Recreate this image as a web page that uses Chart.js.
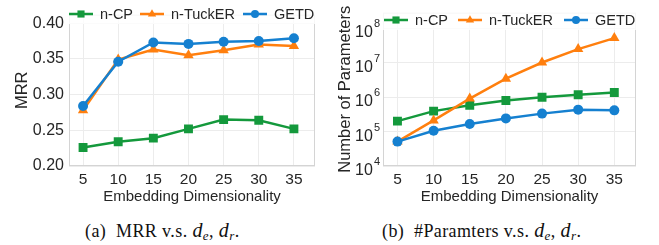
<!DOCTYPE html>
<html>
<head>
<meta charset="utf-8">
<script src="https://cdn.jsdelivr.net/npm/chart.js@4"></script>
<style>
  body { margin: 0; background: #fff; width: 659px; height: 245px; position: relative; overflow: hidden; }
  canvas { position: absolute; top: 0; }
  #chartMrr { left: 0; }
  #chartParams { left: 330px; }
  .cap { position: absolute; top: 219px; font: 18px "Liberation Serif", serif; letter-spacing: 0.4px; color: #111; white-space: nowrap; }
  .cap i { font-style: italic; font-size: 20px; }
  .cap sub { font-size: 13px; font-style: italic; vertical-align: -3px; }
</style>
</head>
<body>
<canvas id="chartMrr" width="330" height="210"></canvas>
<canvas id="chartParams" width="329" height="210"></canvas>
<div class="cap" style="left:85px">(a)&nbsp; MRR v.s. <i>d</i><sub>e</sub>, <i>d</i><sub>r</sub>.</div>
<div class="cap" style="left:382px">(b)&nbsp; #Paramters v.s. <i>d</i><sub>e</sub>, <i>d</i><sub>r</sub>.</div>
<script>
/* =============== Data =============== */
const dims = [5, 10, 15, 20, 25, 30, 35];
const seriesNames = ["n-CP", "n-TuckER", "GETD"];

const mrrCP      = [0.226, 0.234, 0.239, 0.252, 0.265, 0.264, 0.252];
const mrrTuckER  = [0.278, 0.349, 0.363, 0.355, 0.362, 0.370, 0.368];
const mrrGETD    = [0.284, 0.346, 0.373, 0.371, 0.374, 0.375, 0.379];

const paramsCP     = [2.0e5, 3.9e5, 5.8e5, 7.9e5, 9.8e5, 1.16e6, 1.35e6];
const paramsTuckER = [5.1e4, 2.1e5, 9.0e5, 3.4e6, 1.0e7, 2.45e7, 5.1e7];
const paramsGETD   = [5.1e4, 1.05e5, 1.66e5, 2.4e5, 3.3e5, 4.3e5, 4.1e5];

const mrrTicks = [0.20, 0.25, 0.30, 0.35, 0.40];
const paramTicks = [1e4, 1e5, 1e6, 1e7, 1e8];

/* =============== Style =============== */
const colors = ["#14993c", "#ff7f0e", "#1580d0"];
const markers = ["rect", "triangle", "circle"];
const radii = [6.3, 6, 5];
const FONT = '"Liberation Sans", Arial, sans-serif';
const tickColor = "#262626";
const gridColor = "#ececec";

function makeDatasets(values) {
  return values.map((vals, i) => ({
    label: seriesNames[i],
    data: dims.map((d, j) => ({ x: d, y: vals[j] })),
    borderColor: colors[i],
    backgroundColor: colors[i],
    borderWidth: 2.5,
    pointStyle: markers[i],
    pointRadius: radii[i],
    pointBorderWidth: 0,
    tension: 0,
    order: 2 - i
  }));
}

/* frame + legend drawn on top of the plot */
const frameLegend = {
  id: "frameLegend",
  afterDatasetsDraw(chart, args, o) {
    const ctx = chart.ctx;
    const a = chart.chartArea;
    ctx.save();
    ctx.strokeStyle = "#d4d4d4";
    ctx.lineWidth = 1;
    ctx.strokeRect(a.left + 0.5, a.top + 0.5, a.right - a.left - 1, a.bottom - a.top - 1);

    ctx.fillStyle = "rgba(255,255,255,0.8)";
    ctx.fillRect(o.x0, o.y - 10, o.w, 20);
    o.items.forEach((lx, i) => {
      ctx.strokeStyle = colors[i];
      ctx.lineWidth = 2.5;
      ctx.beginPath();
      ctx.moveTo(lx, o.y);
      ctx.lineTo(lx + 24, o.y);
      ctx.stroke();
      ctx.fillStyle = colors[i];
      Chart.helpers.drawPoint(ctx, { pointStyle: markers[i], radius: radii[i] * 0.8, rotation: 0, borderWidth: 0 }, lx + 12, o.y);
      ctx.fillStyle = tickColor;
      ctx.font = "14.5px " + FONT;
      ctx.textBaseline = "middle";
      ctx.textAlign = "left";
      ctx.fillText(seriesNames[i], lx + 31, o.y + 1);
    });
    ctx.restore();
  }
};

/* power-of-ten labels with raised exponent */
const powerTicks = {
  id: "powerTicks",
  afterDraw(chart) {
    const y = chart.scales.y;
    if (y.type !== "logarithmic") return;
    const ctx = chart.ctx;
    ctx.save();
    ctx.fillStyle = tickColor;
    ctx.textAlign = "left";
    ctx.textBaseline = "alphabetic";
    y.ticks.forEach(t => {
      const py = y.getPixelForValue(t.value);
      const exp = String(Math.round(Math.log10(t.value)));
      ctx.font = "16px " + FONT;
      ctx.fillText("10", 25, py + 9);
      ctx.font = "11px " + FONT;
      ctx.fillText(exp, 44, py - 1);
    });
    ctx.restore();
  }
};

function baseX() {
  return {
    type: "linear",
    min: 3,
    max: 38,
    afterBuildTicks: s => { s.ticks = dims.map(v => ({ value: v })); },
    afterFit: s => { s.height = 44; },
    grid: { color: gridColor, drawTicks: false },
    border: { display: false },
    ticks: { color: tickColor, font: { family: FONT, size: 15.5 }, padding: 4 },
    title: { display: true, text: "Embedding Dimensionality", color: tickColor,
             font: { family: FONT, size: 15 }, padding: { top: 0, bottom: 4 } }
  };
}

/* =============== Charts =============== */
new Chart(document.getElementById("chartMrr"), {
  type: "line",
  data: { datasets: makeDatasets([mrrCP, mrrTuckER, mrrGETD]) },
  options: {
    responsive: false,
    animation: false,
    layout: { padding: { top: 6, right: 15, left: 0, bottom: 0 } },
    plugins: {
      legend: { display: false },
      tooltip: { enabled: false },
      frameLegend: { x0: 66, w: 250, y: 14, items: [69, 140, 243] }
    },
    scales: {
      x: baseX(),
      y: {
        min: 0.2,
        max: 0.412,
        afterBuildTicks: s => { s.ticks = mrrTicks.map(v => ({ value: v })); },
        afterFit: s => { s.width = 69; },
        grid: { color: gridColor, drawTicks: false },
        border: { display: false },
        ticks: { color: tickColor, font: { family: FONT, size: 16 }, padding: 5,
                 callback: v => v.toFixed(2) },
        title: { display: true, text: "MRR", color: tickColor,
                 font: { family: FONT, size: 16.5 }, padding: { top: 13, bottom: 0 } }
      }
    }
  },
  plugins: [frameLegend]
});

new Chart(document.getElementById("chartParams"), {
  type: "line",
  data: { datasets: makeDatasets([paramsCP, paramsTuckER, paramsGETD]) },
  options: {
    responsive: false,
    animation: false,
    layout: { padding: { top: 6, right: 23, left: 0, bottom: 0 } },
    plugins: {
      legend: { display: false },
      tooltip: { enabled: false },
      frameLegend: { x0: 52, w: 254, y: 20, items: [54, 128, 234] }
    },
    scales: {
      x: baseX(),
      y: {
        type: "logarithmic",
        min: 1e4,
        max: 2.8e8,
        afterBuildTicks: s => { s.ticks = paramTicks.map(v => ({ value: v })); },
        afterFit: s => { s.width = 53; },
        grid: { color: gridColor, drawTicks: false },
        border: { display: false },
        ticks: { color: "rgba(0,0,0,0)", font: { family: FONT, size: 16 }, callback: v => "10" },
        title: { display: true, text: "Number of Parameters", color: tickColor,
                 font: { family: FONT, size: 16.5 }, padding: { top: 6, bottom: 0 } }
      }
    }
  },
  plugins: [frameLegend, powerTicks]
});
</script>
</body>
</html>
